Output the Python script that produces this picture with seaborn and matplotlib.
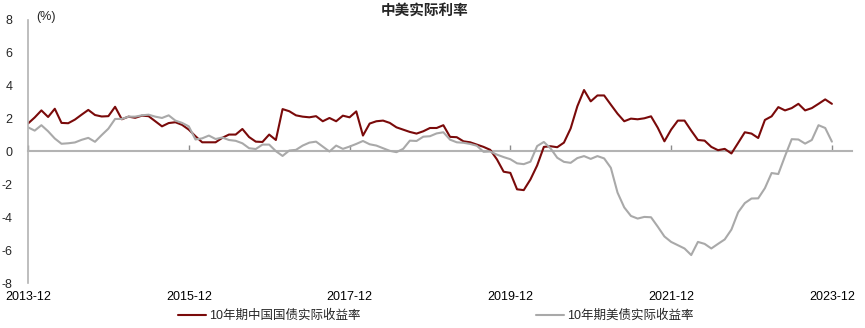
import numpy as np
import pandas as pd
import matplotlib
matplotlib.use('Agg')
import matplotlib.pyplot as plt
import seaborn as sns

# 月度数据 2013-12 ~ 2023-12
months = pd.period_range('2013-12', '2023-12', freq='M').strftime('%Y-%m').tolist()

cn_real = [1.70, 2.07, 2.50, 2.10, 2.60, 1.74, 1.72, 1.94, 2.24, 2.53,
           2.22, 2.13, 2.15, 2.72, 1.96, 2.12, 2.05, 2.18, 2.15, 1.84,
           1.53, 1.73, 1.78, 1.62, 1.33, 0.93, 0.56, 0.56, 0.56, 0.83,
           1.03, 1.03, 1.37, 0.88, 0.60, 0.58, 1.03, 0.70, 2.58, 2.45,
           2.20, 2.12, 2.08, 2.15, 1.84, 2.04, 1.84, 2.18, 2.08, 2.44,
           0.97, 1.70, 1.84, 1.88, 1.74, 1.47, 1.33, 1.19, 1.09, 1.23,
           1.43, 1.43, 1.60, 0.89, 0.87, 0.62, 0.56, 0.42, 0.28, 0.10,
           -0.48, -1.23, -1.30, -2.30, -2.35, -1.70, -0.85, 0.28, 0.32, 0.26,
           0.54, 1.40, 2.75, 3.74, 3.05, 3.41, 3.41, 2.85, 2.30, 1.84,
           2.00, 1.96, 2.02, 2.14, 1.45, 0.62, 1.33, 1.88, 1.88, 1.27,
           0.70, 0.66, 0.28, 0.08, 0.16, -0.12, 0.52, 1.17, 1.09, 0.82,
           1.92, 2.14, 2.70, 2.50, 2.64, 2.90, 2.50, 2.64, 2.90, 3.17,
           2.90]

us_real = [1.47, 1.27, 1.60, 1.23, 0.79, 0.47, 0.50, 0.55, 0.71, 0.83,
           0.59, 1.00, 1.39, 1.98, 1.98, 2.12, 2.12, 2.20, 2.24, 2.12,
           2.04, 2.20, 1.88, 1.74, 1.53, 0.73, 0.80, 0.97, 0.76, 0.85,
           0.70, 0.65, 0.50, 0.20, 0.15, 0.42, 0.42, 0.02, -0.27, 0.06,
           0.10, 0.36, 0.54, 0.60, 0.30, 0.00, 0.36, 0.16, 0.30, 0.46,
           0.64, 0.44, 0.36, 0.20, 0.04, -0.04, 0.16, 0.66, 0.64, 0.90,
           0.93, 1.10, 1.17, 0.72, 0.56, 0.53, 0.46, 0.35, -0.02, 0.00,
           -0.19, -0.34, -0.47, -0.72, -0.77, -0.62, 0.33, 0.58, 0.19, -0.38,
           -0.63, -0.69, -0.40, -0.28, -0.45, -0.28, -0.42, -0.99, -2.50, -3.40,
           -3.92, -4.08, -3.98, -4.00, -4.57, -5.17, -5.50, -5.70, -5.90, -6.30,
           -5.50, -5.62, -5.90, -5.62, -5.35, -4.75, -3.70, -3.14, -2.86, -2.85,
           -2.23, -1.31, -1.37, -0.28, 0.75, 0.73, 0.48, 0.70, 1.60, 1.43,
           0.60]

series_names = ['10年期中国国债实际收益率', '10年期美债实际收益率']
tick_labels = ['2013-12', '2015-12', '2017-12', '2019-12', '2021-12', '2023-12']

# 整理成长表
pos = np.arange(len(months))
df = pd.concat([
    pd.DataFrame({'pos': pos, 'month': months, 'value': cn_real, 'series': series_names[0]}),
    pd.DataFrame({'pos': pos, 'month': months, 'value': us_real, 'series': series_names[1]}),
])

sns.set_style('white')
plt.rcParams['font.family'] = ['Liberation Sans', 'Noto Sans CJK SC']
plt.rcParams['axes.unicode_minus'] = False

red = '#7a0a0a'
grey = '#a9a9a9'
axis_grey = '#b3b3b3'

fig = plt.figure(figsize=(8.65, 3.28), dpi=100)
ax = fig.add_axes([28 / 865, 1 - 283 / 328, (852 - 28) / 865, (283 - 20) / 328])

sns.lineplot(data=df, x='pos', y='value', hue='series',
             palette={series_names[0]: red, series_names[1]: grey},
             linewidth=1.5, ax=ax)

handles, labels = ax.get_legend_handles_labels()
ax.get_legend().remove()

ax.set_xlim(0, 123)
ax.set_ylim(-8, 8)
ax.set_yticks(np.arange(-8, 9, 2))
ax.set_xlabel('')
ax.set_ylabel('')

tick_pos = [months.index(t) for t in tick_labels]
ax.set_xticks(tick_pos)
ax.set_xticklabels(tick_labels)
ax.tick_params(axis='x', length=0, pad=6, labelsize=9, colors='black')
ax.tick_params(axis='y', direction='in', length=3, color=axis_grey, pad=11, labelsize=9)

for s in ['top', 'right', 'bottom']:
    ax.spines[s].set_visible(False)
ax.spines['left'].set_color(axis_grey)
ax.spines['left'].set_linewidth(1.2)

# 零轴（刻度朝上，不带标签）
zero_ax = ax.secondary_xaxis(0.5)
zero_ax.set_xticks(tick_pos)
zero_ax.set_xticklabels([])
zero_ax.tick_params(axis='x', direction='out', length=4, width=1, color='#8c8c8c',
                    labelbottom=False, labeltop=False)
for s in ['top', 'bottom']:
    zero_ax.spines[s].set_color(axis_grey)
    zero_ax.spines[s].set_linewidth(1.5)

fig.text(36 / 865, 1 - 17 / 328, '(%)', fontsize=9, va='center', ha='left')
fig.text(425 / 865, 1 - 11 / 328, '中美实际利率', fontsize=10.5,
         fontweight='bold', ha='center', va='center')

fig.legend(handles, labels, loc='center', bbox_to_anchor=(436 / 865, 1 - 316 / 328),
           ncol=2, frameon=False, fontsize=9, handlelength=2.2,
           handletextpad=0.3, columnspacing=14)

fig.savefig('out.png', dpi=100)
